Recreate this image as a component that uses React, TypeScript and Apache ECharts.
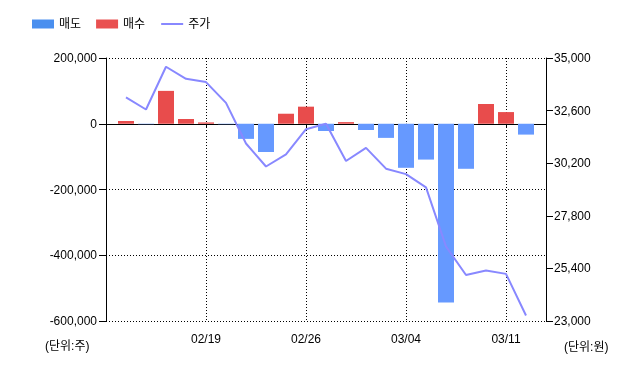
import { useEffect, useRef } from 'react';
import * as echarts from 'echarts';

const dates = [
  '02/13', '02/14', '02/15', '02/16', '02/19', '02/20', '02/21', '02/22', '02/23', '02/26',
  '02/27', '02/28', '02/29', '03/01', '03/04', '03/05', '03/06', '03/07', '03/08', '03/11', '03/12',
];
const netVolume = [
  8400, -1500, 100000, 14500, 4000, -1500, -46000, -86000, 30500, 52000,
  -22000, 5000, -19000, -43000, -134000, -109000, -544000, -137000, 60000, 35500, -33000,
];
const prices = [
  33200, 32650, 34600, 34050, 33900, 32950, 31100, 30050, 30600, 31750,
  32000, 30300, 30900, 29950, 29700, 29100, 26400, 25100, 25300, 25150, 23250,
];
const xTickLabels = ['02/19', '02/26', '03/04', '03/11'];
const seriesNames = ['매도', '매수', '주가'];
const leftUnit = '(단위:주)';
const rightUnit = '(단위:원)';

const FONT = "'Liberation Sans', Arial, 'Noto Sans CJK KR', sans-serif";

export default function App() {
  const ref = useRef<HTMLDivElement>(null);
  useEffect(() => {
    const chart = echarts.init(ref.current!, null, { renderer: 'svg' });
    const cats = ['', ...dates, ''];
    const pad = (arr: any[]) => ['-', ...arr, '-'];
    const sell = pad(netVolume.map((v) => (v < 0 ? v : '-')));
    const buy = pad(netVolume.map((v) => (v >= 0 ? v : '-')));
    const price = pad(prices);
    const showTick = (idx: number, val: string) => xTickLabels.includes(val);
    const fmt = (v: number) => v.toLocaleString('en-US');
    const dotted = { color: '#000', width: 1, type: [1, 2] as any };

    chart.setOption({
      animation: false,
      textStyle: { fontFamily: FONT },
      legend: {
        left: 27,
        top: 13,
        itemWidth: 22,
        itemHeight: 9,
        itemGap: 15,
        textStyle: { fontSize: 12, color: '#000', fontFamily: FONT },
        data: [
          { name: seriesNames[0], icon: 'rect', itemStyle: { color: '#4a8fef' } },
          { name: seriesNames[1], icon: 'rect', itemStyle: { color: '#e95050' } },
          { name: seriesNames[2], itemStyle: { opacity: 0 }, lineStyle: { color: '#8888ff', width: 2 } },
        ],
      },
      grid: { left: 106, right: 94, top: 58, bottom: 47, containLabel: false },
      xAxis: {
        type: 'category',
        data: cats,
        boundaryGap: false,
        axisLine: { show: true, lineStyle: { color: '#000', width: 1 } },
        axisTick: { show: true, length: 4, interval: (i: number, v: string) => i === 0 || showTick(i, v), lineStyle: { color: '#000' } },
        axisLabel: { interval: showTick, color: '#000', fontSize: 12, margin: 12, fontFamily: FONT },
        splitLine: { show: true, interval: showTick, lineStyle: dotted },
      },
      yAxis: [
        {
          type: 'value',
          min: -600000,
          max: 200000,
          interval: 200000,
          position: 'left',
          axisLine: { show: true, lineStyle: { color: '#000', width: 1 } },
          axisTick: { show: true, length: 7, lineStyle: { color: '#000' } },
          axisLabel: { formatter: fmt, color: '#000', fontSize: 12, margin: 9, fontFamily: FONT },
          splitLine: { show: true, lineStyle: dotted },
        },
        {
          type: 'value',
          min: 23000,
          max: 35000,
          interval: 2400,
          position: 'right',
          axisLine: { show: true, lineStyle: { color: '#000', width: 1 } },
          axisTick: { show: true, length: 7, lineStyle: { color: '#000' } },
          axisLabel: { formatter: fmt, color: '#000', fontSize: 12, margin: 8, fontFamily: FONT },
          splitLine: { show: false },
        },
      ],
      graphic: [
        { type: 'text', left: 45, top: 340, style: { text: leftUnit, fontSize: 12, fill: '#000', fontFamily: FONT } },
        { type: 'text', left: 564, top: 341, style: { text: rightUnit, fontSize: 12, fill: '#000', fontFamily: FONT } },
      ],
      series: [
        {
          name: seriesNames[0],
          type: 'bar',
          data: sell,
          barWidth: 16,
          barGap: '-100%',
          itemStyle: { color: '#6699ff' },
          yAxisIndex: 0,
        },
        {
          name: seriesNames[1],
          type: 'bar',
          data: buy,
          barWidth: 16,
          barGap: '-100%',
          itemStyle: { color: '#e84c4c' },
          yAxisIndex: 0,
        },
        {
          name: seriesNames[2],
          type: 'line',
          data: price,
          yAxisIndex: 1,
          symbol: 'none',
          showSymbol: false,
          lineStyle: { color: '#8888ff', width: 2 },
          itemStyle: { color: '#8888ff' },
          z: 5,
        },
      ],
    });
    return () => chart.dispose();
  }, []);
  return <div ref={ref} style={{ position: 'fixed', left: 0, top: 0, width: 640, height: 368 }} />;
}
